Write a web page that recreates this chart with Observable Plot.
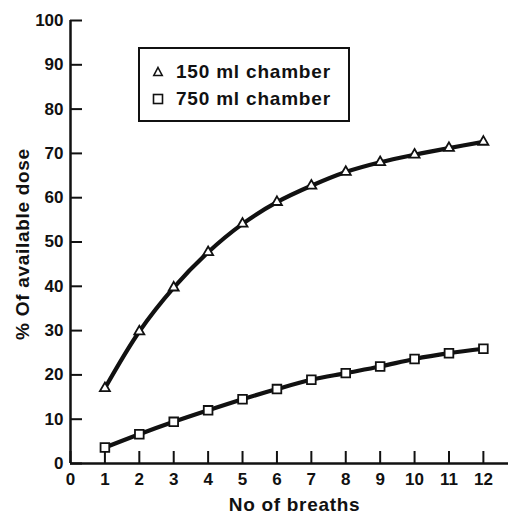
<!DOCTYPE html>
<html>
<head>
<meta charset="utf-8">
<script src="https://cdn.jsdelivr.net/npm/d3@7"></script>
<script src="https://cdn.jsdelivr.net/npm/@observablehq/plot@0.6"></script>
<style>
  html, body { margin: 0; padding: 0; background: #fff; }
  #wrap { position: relative; width: 508px; height: 515px; }
  #legend { position: absolute; left: 138px; top: 47px; width: 212px; height: 75px;
            border: 2px solid #111; box-sizing: border-box; background: #fff;
            font-family: "Liberation Sans", Arial, sans-serif; font-weight: bold;
            font-size: 19px; letter-spacing: 0.8px; color: #111; }
  .item { position: absolute; left: 0; height: 22px; }
  .item svg { position: absolute; left: 10px; top: 1px; }
  .item span { position: absolute; left: 36px; top: 0; line-height: 22px; white-space: nowrap; }
</style>
</head>
<body>
<div id="wrap"></div>
<script>
const breaths = [1, 2, 3, 4, 5, 6, 7, 8, 9, 10, 11, 12];
const dose150 = [17.0, 29.8, 39.7, 47.7, 54.1, 59.0, 62.7, 65.8, 68.0, 69.7, 71.2, 72.6];
const dose750 = [3.6, 6.6, 9.4, 12.0, 14.5, 16.8, 18.9, 20.4, 21.9, 23.6, 24.9, 25.9];
const xTicks = [0, 1, 2, 3, 4, 5, 6, 7, 8, 9, 10, 11, 12];
const yTicks = [0, 10, 20, 30, 40, 50, 60, 70, 80, 90, 100];
const seriesNames = ["150 ml chamber", "750 ml chamber"];
const xTitle = "No of breaths";
const yTitle = "% Of available dose";

const rows = breaths.map((b, i) => ({b, v150: dose150[i], v750: dose750[i]}));

const W = 508, H = 515, mL = 70, mR = 0, mT = 20, mB = 52;
const innerW = W - mL - mR, innerH = H - mT - mB;
const tickLen = 12;

const plot = Plot.plot({
  width: W, height: H,
  marginLeft: mL, marginRight: mR, marginTop: mT, marginBottom: mB,
  x: {domain: [0, 12.73]},
  y: {domain: [0, 100]},
  style: {fontFamily: "'Liberation Sans', Arial, sans-serif", fontWeight: "bold", fontSize: "17px", color: "#111", background: "#fff"},
  marks: [
    Plot.axisY(yTicks, {tickSize: 0, tickPadding: 7, label: null, fontSize: 17, fontWeight: "bold"}),
    Plot.axisX(xTicks, {tickSize: 0, tickPadding: 9, label: null, fontSize: 17, fontWeight: "bold"}),
    Plot.tickY(yTicks, {y: d => d, insetRight: innerW - tickLen, stroke: "#111", strokeWidth: 2}),
    Plot.tickX(xTicks, {x: d => d, insetTop: innerH - tickLen, stroke: "#111", strokeWidth: 2}),
    Plot.ruleX([0], {stroke: "#111", strokeWidth: 2.5}),
    Plot.ruleY([0], {stroke: "#111", strokeWidth: 2.5}),
    Plot.line(rows, {x: "b", y: "v150", curve: "catmull-rom", stroke: "#111", strokeWidth: 4.2}),
    Plot.line(rows, {x: "b", y: "v750", curve: "catmull-rom", stroke: "#111", strokeWidth: 4.2}),
    Plot.dot(rows, {x: "b", y: "v150", symbol: "triangle", r: 3.7, fill: "#fff", stroke: "#111", strokeWidth: 1.8}),
    Plot.dot(rows, {x: "b", y: "v750", symbol: "square", r: 4.9, fill: "#fff", stroke: "#111", strokeWidth: 1.8}),
    Plot.text([xTitle], {frameAnchor: "bottom", lineAnchor: "middle", textAnchor: "middle", dx: 5, dy: 41, fontSize: 19, fontWeight: "bold", fill: "#111"}),
    Plot.text([yTitle], {frameAnchor: "left", lineAnchor: "middle", textAnchor: "middle", dx: -48, dy: 2, rotate: -90, fontSize: 19, fontWeight: "bold", fill: "#111"})
  ]
});

d3.select(plot).selectAll("g[aria-label=text] text").style("letter-spacing", "0.7px");

const wrap = document.getElementById("wrap");
wrap.appendChild(plot);

const legend = document.createElement("div");
legend.id = "legend";
const symbols = [
  '<svg width="16" height="20"><path d="M8,5.5 L12.2,13.5 L3.8,13.5 Z" fill="#fff" stroke="#111" stroke-width="1.6"/></svg>',
  '<svg width="16" height="20"><rect x="3.5" y="5.5" width="9" height="9" fill="#fff" stroke="#111" stroke-width="1.6"/></svg>'
];
const tops = [12, 39];
seriesNames.forEach((name, i) => {
  const item = document.createElement("div");
  item.className = "item";
  item.style.top = tops[i] + "px";
  item.innerHTML = symbols[i] + "<span>" + name + "</span>";
  legend.appendChild(item);
});
wrap.appendChild(legend);
</script>
</body>
</html>
